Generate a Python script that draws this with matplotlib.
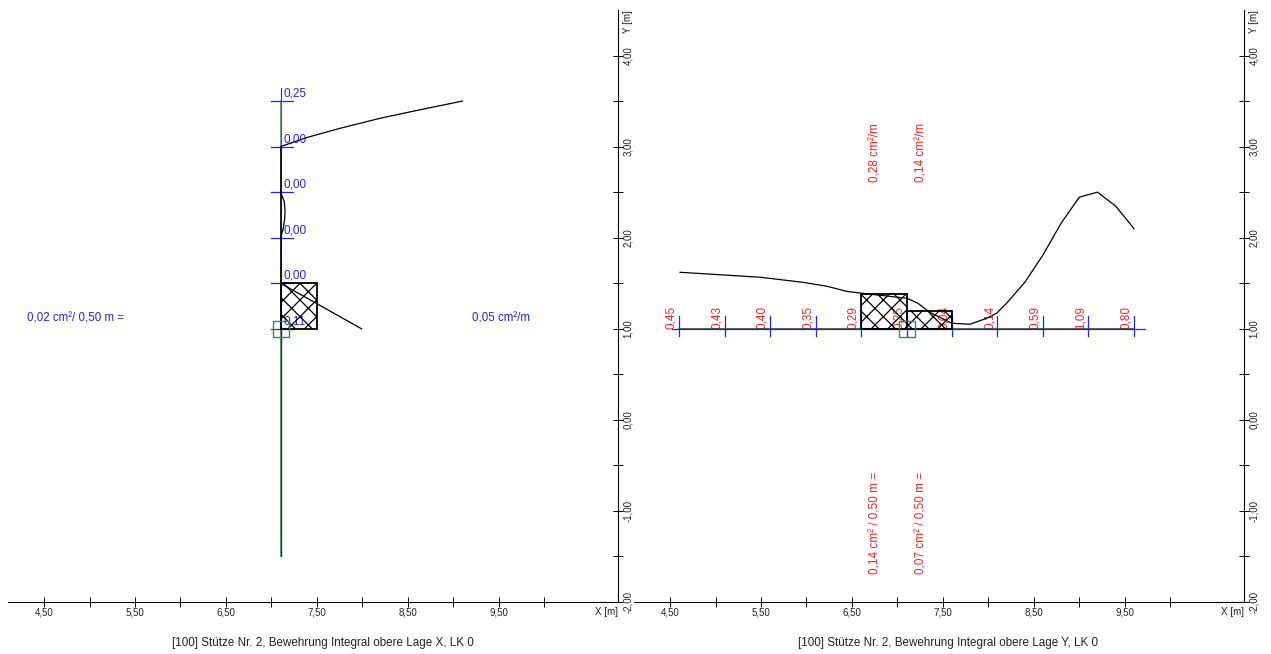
import matplotlib
matplotlib.use("Agg")
import matplotlib.pyplot as plt
from matplotlib.patches import Rectangle

plt.rcParams['font.family'] = ['Liberation Sans', 'DejaVu Sans']
plt.rcParams['hatch.linewidth'] = 0.9

W, H = 1271, 654

x_ticks = [4.5 + 0.5 * i for i in range(12)]
y_ticks = [-2 + 0.5 * i for i in range(13)]

# left panel, section X
left_stations = [1.0, 1.5, 2.0, 2.5, 3.0, 3.5]
left_values = ["0,11", "0,00", "0,00", "0,00", "0,00", "0,25"]
left_curve_a_x = [7.99, 7.1]
left_curve_a_y = [1.0, 1.5]
left_curve_b_x = [7.1, 7.13, 7.145, 7.15, 7.14, 7.1]
left_curve_b_y = [2.0, 2.1, 2.2, 2.3, 2.4, 2.5]
left_curve_c_x = [7.1, 7.39, 7.75, 8.19, 8.66, 9.1]
left_curve_c_y = [3.0, 3.1, 3.2, 3.31, 3.41, 3.5]

# right panel, section Y
right_stations = [4.6, 5.1, 5.6, 6.1, 6.6, 7.1, 7.6, 8.1, 8.6, 9.1, 9.6]
right_values = ["0,45", "0,43", "0,40", "0,35", "0,29", "0,25", "0,04", "0,14", "0,59", "1,09", "0,80"]
right_curve_x = [4.61, 4.94, 5.49, 5.96, 6.225, 6.445, 6.61, 7.105, 7.225, 7.357, 7.6, 7.8,
                 7.98, 8.09, 8.2, 8.4, 8.6, 8.8, 9.0, 9.2, 9.4, 9.6]
right_curve_y = [1.62, 1.60, 1.566, 1.51, 1.467, 1.41, 1.39, 1.335, 1.28, 1.18, 1.06, 1.05,
                 1.115, 1.17, 1.28, 1.51, 1.81, 2.16, 2.445, 2.5, 2.346, 2.10]

BLUE = "#2222ff"
RED = "#ff2222"
GREEN = "#3c8a4a"
DARK = "#2a3f2a"
GREY = "#222222"


def make_axes(fig, left_px):
    ax = fig.add_axes([left_px / W, 1 - 602 / H, 610 / W, 592 / H])
    ax.set_xlim(4.104, 10.81)
    ax.set_ylim(-2, 4.5)
    ax.patch.set_alpha(0)
    for side in ["top", "left"]:
        ax.spines[side].set_visible(False)
    ax.spines["bottom"].set_linewidth(0.8)
    ax.spines["right"].set_linewidth(0.8)
    ax.yaxis.tick_right()
    ax.set_xticks(x_ticks)
    ax.set_yticks(y_ticks)
    ax.set_xticklabels([f"{t:.2f}".replace(".", ",") if i % 2 == 0 else "" for i, t in enumerate(x_ticks)],
                       fontsize=7, color=GREY)
    ax.set_yticklabels([f"{t:.2f}".replace(".", ",") if i % 2 == 0 else "" for i, t in enumerate(y_ticks)],
                       fontsize=7, color=GREY, rotation=90, va="center")
    ax.tick_params(axis="both", direction="inout", length=6.5, width=0.7, pad=0.5)
    ax.text(10.81, -2.11, "X [m]", fontsize=7, color=GREY, ha="right", va="center")
    ax.text(10.925, 4.37, "Y [m]", fontsize=7, color=GREY, rotation=90, ha="center", va="center")
    return ax


def draw_left(ax):
    ax.plot([7.1, 7.1], [0.9, 3.64], color=BLUE, lw=0.8, zorder=1)
    ax.plot([7.1, 7.1], [-1.5, 3.5], color=GREEN, lw=1.1, zorder=2)
    ax.plot([7.1, 7.1], [-1.5, 1.0], color=DARK, lw=1.0, zorder=2)
    ax.plot([7.1, 7.1], [1.0, 3.0], color="black", lw=1.1, zorder=3)
    for st, val in zip(left_stations, left_values):
        ax.plot([7.0, 7.24], [st, st], color=BLUE, lw=0.9, zorder=2)
        ax.annotate(val, (7.1, st), xytext=(2, 1), textcoords="offset points",
                    fontsize=8.5, color=BLUE, ha="left", va="bottom", zorder=1)
    ax.plot(left_curve_a_x, left_curve_a_y, color="black", lw=0.9, zorder=4)
    ax.plot(left_curve_b_x, left_curve_b_y, color="black", lw=0.9, zorder=4)
    ax.plot(left_curve_c_x, left_curve_c_y, color="black", lw=0.9, zorder=4)
    ax.add_patch(Rectangle((7.1, 1.0), 0.4, 0.5, facecolor="none", edgecolor="black", hatch="xx", lw=1.3, zorder=3))
    ax.add_patch(Rectangle((7.012, 0.915), 0.176, 0.17, facecolor="none", edgecolor=GREEN, lw=1.0, zorder=3))
    ax.text(4.313, 1.11, "0,02 cm²/ 0,50 m =", fontsize=8.3, color=BLUE, ha="left", va="center")
    ax.text(9.2, 1.11, "0,05 cm²/m", fontsize=8.3, color=BLUE, ha="left", va="center")


def draw_right(ax):
    ax.plot([4.52, 9.72], [1.0, 1.0], color=BLUE, lw=0.9, zorder=1)
    ax.plot([4.6, 9.6], [1.0, 1.0], color=DARK, lw=1.1, zorder=2)
    for st, val in zip(right_stations, right_values):
        ax.plot([st, st], [0.92, 1.14], color=BLUE, lw=0.9, zorder=2)
        ax.annotate(val, (st, 1.0), xytext=(-1.2, 0), textcoords="offset points",
                    fontsize=8.5, color=RED, rotation=90, ha="right", va="bottom", zorder=1)
    ax.plot(right_curve_x, right_curve_y, color="black", lw=0.9, zorder=4)
    ax.add_patch(Rectangle((6.6, 1.0), 0.5, 0.385, facecolor="none", edgecolor="black", hatch="xx", lw=1.3, zorder=3))
    ax.add_patch(Rectangle((7.1, 1.0), 0.5, 0.19, facecolor="none", edgecolor="black", hatch="xx", lw=1.3, zorder=3))
    ax.add_patch(Rectangle((7.012, 0.915), 0.176, 0.17, facecolor="none", edgecolor=GREEN, lw=1.0, zorder=3))
    ax.text(6.755, 2.61, "0,28 cm²/m", fontsize=8.5, color=RED, rotation=90, ha="center", va="bottom")
    ax.text(7.26, 2.61, "0,14 cm²/m", fontsize=8.5, color=RED, rotation=90, ha="center", va="bottom")
    ax.text(6.755, -1.698, "0,14 cm² / 0,50 m =", fontsize=8.5, color=RED, rotation=90, ha="center", va="bottom")
    ax.text(7.26, -1.698, "0,07 cm² / 0,50 m =", fontsize=8.5, color=RED, rotation=90, ha="center", va="bottom")


fig = plt.figure(figsize=(W / 100, H / 100), dpi=100)
ax_left = make_axes(fig, 8)
ax_right = make_axes(fig, 634)
draw_left(ax_left)
draw_right(ax_right)
fig.text(323 / W, 1 - 643 / H, "[100] Stütze Nr. 2, Bewehrung Integral obere Lage X, LK 0",
         fontsize=8.4, color=GREY, ha="center", va="center")
fig.text(948.5 / W, 1 - 643 / H, "[100] Stütze Nr. 2, Bewehrung Integral obere Lage Y, LK 0",
         fontsize=8.4, color=GREY, ha="center", va="center")
fig.savefig("out.png", dpi=100)
